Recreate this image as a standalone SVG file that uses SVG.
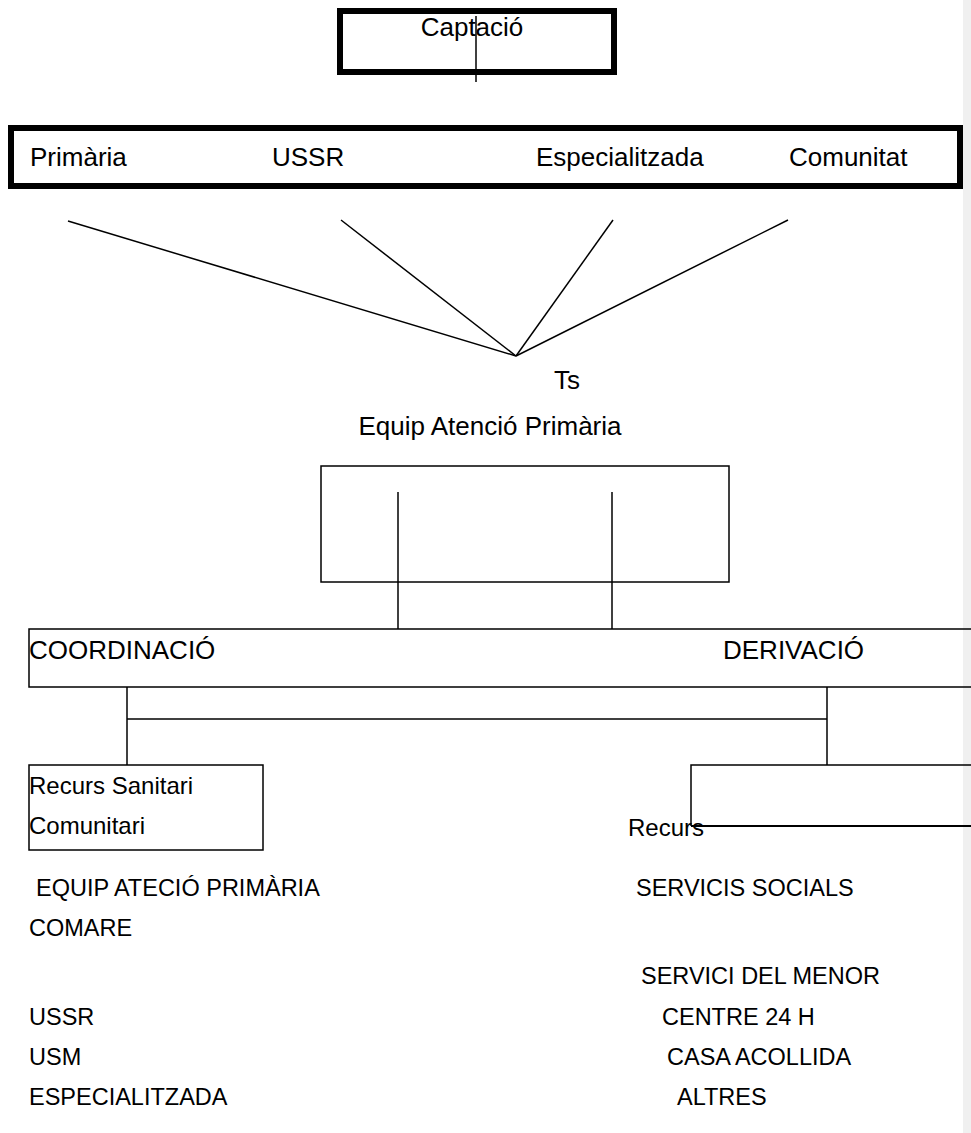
<svg xmlns="http://www.w3.org/2000/svg" width="971" height="1133" viewBox="0 0 971 1133">
<style>
text{font-family:"Liberation Sans",Arial,sans-serif;font-size:26px;fill:#000}
.m{font-size:24px}
.s{font-size:23.5px}
.thick{fill:none;stroke:#000;stroke-width:6}
.thin{fill:none;stroke:#000;stroke-width:1.5}
.ln{stroke:#000;stroke-width:1.5;fill:none}
</style>
<rect x="0" y="0" width="971" height="1133" fill="#fff"/>
<rect x="963" y="0" width="8" height="1133" fill="#f0f0f0"/>
<g id="captacio">
<rect class="thick" x="340" y="11" width="274" height="61"/>
<text x="472" y="36" text-anchor="middle">Captació</text>
</g>
<g id="origens">
<rect class="thick" x="11" y="128" width="949" height="58"/>
<text x="30" y="166">Primària</text>
<text x="272" y="166">USSR</text>
<text x="536" y="166">Especialitzada</text>
<text x="789" y="166">Comunitat</text>
</g>
<g id="ts">
<text x="567" y="389" text-anchor="middle">Ts</text>
<text x="490" y="435" text-anchor="middle">Equip Atenció Primària</text>
</g>
<g id="equip-box">
<rect class="thin" x="321" y="466" width="408" height="116"/>
</g>
<g id="coord">
<path class="thin" d="M975 629 H29 V687 H975"/>
<text x="29" y="659">COORDINACIÓ</text>
<text x="723" y="659">DERIVACIÓ</text>
</g>
<g id="recurs-sanitari">
<rect class="thin" x="29" y="765" width="234" height="85"/>
<text class="m" x="29" y="794">Recurs Sanitari</text>
<text class="m" x="29" y="834">Comunitari</text>
</g>
<g id="recurs">
<path class="thin" d="M975 765 H691 V826" />
<line x1="691" y1="826" x2="975" y2="826" stroke="#000" stroke-width="2"/>
<text class="m" x="628" y="836">Recurs</text>
</g>
<g id="llista-esq">
<text class="s" x="36" y="896">EQUIP ATECIÓ PRIMÀRIA</text>
<text class="s" x="29" y="936">COMARE</text>
<text class="s" x="29" y="1025">USSR</text>
<text class="s" x="29" y="1065">USM</text>
<text class="s" x="29" y="1105">ESPECIALITZADA</text>
</g>
<g id="llista-dre">
<text class="s" x="636" y="896">SERVICIS SOCIALS</text>
<text class="s" x="641" y="984">SERVICI DEL MENOR</text>
<text class="s" x="662" y="1025">CENTRE 24 H</text>
<text class="s" x="667" y="1065">CASA ACOLLIDA</text>
<text class="s" x="677" y="1105">ALTRES</text>
</g>
<g id="connectors">
<line class="ln" x1="476" y1="16" x2="476" y2="82"/>
<line class="ln" x1="68" y1="221" x2="516" y2="356"/>
<line class="ln" x1="341" y1="220" x2="516" y2="356"/>
<line class="ln" x1="613" y1="220" x2="516" y2="356"/>
<line class="ln" x1="788" y1="220" x2="516" y2="356"/>
<line class="ln" x1="398" y1="492" x2="398" y2="629"/>
<line class="ln" x1="612" y1="492" x2="612" y2="629"/>
<line class="ln" x1="127" y1="687" x2="127" y2="765"/>
<line class="ln" x1="127" y1="719" x2="827" y2="719"/>
<line class="ln" x1="827" y1="687" x2="827" y2="765"/>
</g>
</svg>
